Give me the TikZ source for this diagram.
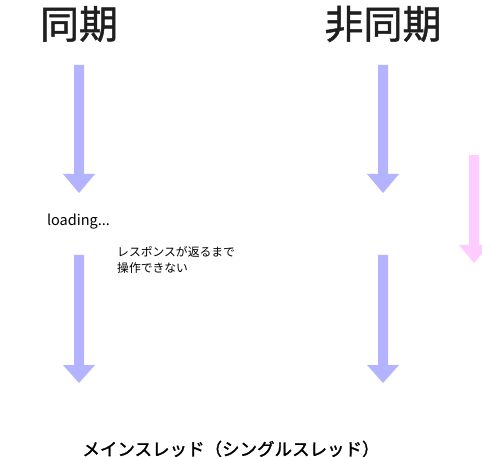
\documentclass[tikz,border=0pt]{standalone}
\usepackage{fontspec}
\setmainfont{Noto Sans CJK JP}
\definecolor{arrowblue}{HTML}{B3B3FF}
\definecolor{arrowpink}{HTML}{FFCCFF}
\newcommand{\fatarrow}[6]{%
  \fill[#1] (#2-5,#3) -- (#2+5,#3) -- (#2+5,#4) -- (#2+#6,#4) -- (#2,#5) -- (#2-#6,#4) -- (#2-5,#4) -- cycle;}
\begin{document}
\begin{tikzpicture}[x=1pt,y=-1pt,
  title/.style={font=\fontsize{39}{40}\selectfont\addfontfeature{FakeBold=1.2}, text=black!88, inner sep=0pt},
  small/.style={font=\fontsize{14.5}{16}\selectfont, inner sep=0pt},
  note/.style={font=\fontsize{11.8}{16}\selectfont, inner sep=0pt, align=left}]
\useasboundingbox (0,0) rectangle (482,457);
\node[title] (sync) at (79,24) {同期};
\node[title] (async) at (383,24) {非同期};
\fatarrow{arrowblue}{79}{65}{174}{193}{16}
\fatarrow{arrowblue}{79}{255}{365}{383}{16}
\fatarrow{arrowblue}{383}{65}{174}{193}{16}
\fatarrow{arrowblue}{383}{255}{365}{383}{16}
\begin{scope}
\clip (0,0) rectangle (482,457);
\fatarrow{arrowpink}{474}{155}{245}{263}{15}
\end{scope}
\node[small] (loading) at (78.5,222) {loading...};
\node[note, anchor=north west] (resp) at (117,246) {レスポンスが返るまで\\操作できない};
\node[font=\fontsize{17.5}{19}\selectfont\addfontfeature{FakeBold=1.5}, inner sep=0pt] (main) at (231,449) {メインスレッド（シングルスレッド）};
\end{tikzpicture}
\end{document}
